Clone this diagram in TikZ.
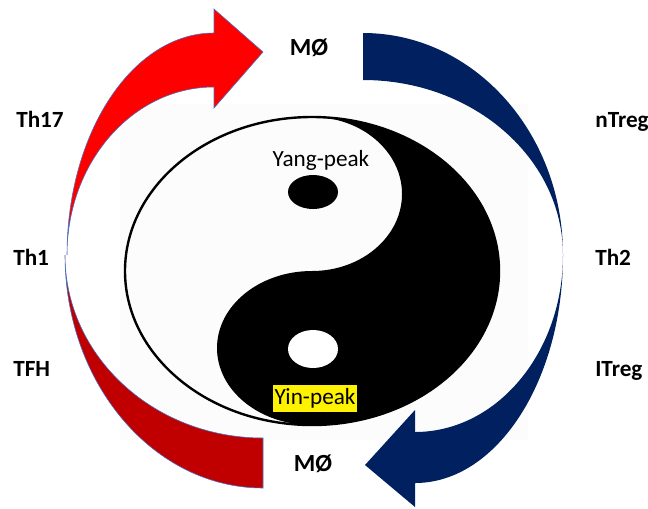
\documentclass[tikz,border=0pt]{standalone}
\usepackage{fontspec}
\setmainfont{Carlito}
\usetikzlibrary{positioning}
\definecolor{arrowred}{HTML}{FF0000}
\definecolor{darkred}{HTML}{C00000}
\definecolor{navy}{HTML}{002060}
\definecolor{rimblue}{HTML}{4472C4}

\begin{document}
\begin{tikzpicture}[x=0.025cm,y=-0.025cm,
  cell/.style={font=\bfseries\fontsize{16.5}{18}\selectfont,inner sep=0pt},
  peak/.style={font=\fontsize{16.5}{18}\selectfont,inner sep=0pt}]
  \useasboundingbox (0,0) rectangle (648,508);
  % --- yin-yang ---
  \fill[black!1] (120,104) rectangle (528,440);
  \fill (312,117) arc[start angle=-90,end angle=90,x radius=187,y radius=154]
    arc[start angle=90,end angle=270,x radius=95,y radius=77]
    arc[start angle=90,end angle=-90,x radius=90,y radius=77] -- cycle;
  \draw[line width=1.7pt] (312,271) ellipse[x radius=187,y radius=154];
  \fill (313,192) ellipse[x radius=25,y radius=17];
  \fill[white] (313,349) ellipse[x radius=25,y radius=19];
  % --- flechas ---
  \filldraw[fill=arrowred,draw=rimblue,line width=0.4pt]
    (67,255) arc[start angle=180,end angle=270,x radius=147,y radius=222]
    -- (214,9) -- (263,52) -- (214,108) -- (214,87)
    arc[start angle=270,end angle=180,x radius=147,y radius=168] -- cycle;
  \filldraw[fill=darkred,draw=rimblue,line width=0.4pt]
    (65,255) arc[start angle=180,end angle=90,x radius=198,y radius=233]
    -- (263,438)
    arc[start angle=90,end angle=180,x radius=198,y radius=183] -- cycle;
  \fill[navy] (563,255) arc[start angle=0,end angle=-90,x radius=200,y radius=222]
    -- (363,80)
    arc[start angle=-90,end angle=0,x radius=200,y radius=175] -- cycle;
  \fill[navy] (563,255) arc[start angle=0,end angle=90,x radius=148,y radius=228]
    -- (415,507) -- (365,465) -- (415,410) -- (415,432)
    arc[start angle=90,end angle=0,x radius=148,y radius=177] -- cycle;
  % --- etiquetas ---
  \node[cell,anchor=base,font=\bfseries\fontsize{17.5}{19}\selectfont] (mtop) at (309,55) {MØ};
  \node[cell,anchor=base,font=\bfseries\fontsize{17.5}{19}\selectfont] (mbot) at (313,471) {MØ};
  \node[cell,anchor=base west] (th17) at (16,127) {Th17};
  \node[cell,anchor=base west] (th1) at (13,265) {Th1};
  \node[cell,anchor=base west] (tfh) at (13,376) {TFH};
  \node[cell,anchor=base west] (ntreg) at (595,127) {nTreg};
  \node[cell,anchor=base west] (th2) at (595,265) {Th2};
  \node[cell,anchor=base west] (itreg) at (595,376) {ITreg};
  \node[peak,anchor=base] (yang) at (321,166) {Yang-peak};
  \node[peak,fill=yellow,inner xsep=1pt,minimum height=19pt] (yin) at (315,398.5) {Yin-peak};
\end{tikzpicture}
\end{document}
